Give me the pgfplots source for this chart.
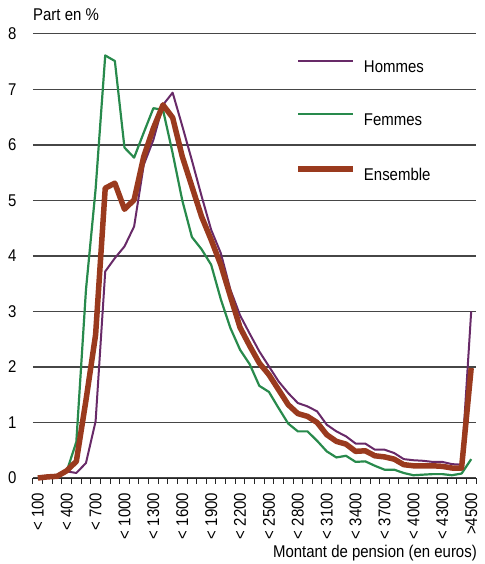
\documentclass[border=0pt]{standalone}
\usepackage{fontspec}
\setmainfont{Liberation Sans}[FakeStretch=0.88]
\usepackage{pgfplots}
\pgfplotsset{compat=1.18}
\definecolor{hom}{RGB}{104,42,104}
\definecolor{fem}{RGB}{40,138,76}
\definecolor{ens}{RGB}{154,58,30}
\definecolor{gridc}{RGB}{70,70,70}

\pgfplotstableread{
i hom fem ens
0 0.00 0.00 0.00
1 0.02 0.02 0.02
2 0.02 0.03 0.03
3 0.12 0.12 0.13
4 0.09 0.65 0.30
5 0.27 3.39 1.40
6 1.02 5.20 2.58
7 3.72 7.61 5.22
8 3.96 7.51 5.31
9 4.17 5.95 4.84
10 4.53 5.77 5.01
11 5.64 6.22 5.79
12 6.09 6.66 6.30
13 6.72 6.63 6.72
14 6.94 5.85 6.49
15 6.34 5.00 5.79
16 5.72 4.34 5.25
17 5.08 4.12 4.71
18 4.47 3.84 4.29
19 4.05 3.22 3.84
20 3.39 2.70 3.27
21 2.93 2.31 2.71
22 2.60 2.05 2.38
23 2.28 1.66 2.07
24 2.01 1.55 1.86
25 1.74 1.26 1.59
26 1.53 0.98 1.32
27 1.35 0.84 1.16
28 1.29 0.84 1.11
29 1.20 0.67 1.00
30 0.96 0.48 0.78
31 0.84 0.37 0.66
32 0.75 0.40 0.61
33 0.62 0.29 0.48
34 0.62 0.30 0.49
35 0.51 0.22 0.40
36 0.51 0.15 0.38
37 0.45 0.15 0.34
38 0.34 0.09 0.24
39 0.32 0.05 0.22
40 0.31 0.06 0.22
41 0.29 0.07 0.22
42 0.29 0.07 0.21
43 0.25 0.05 0.18
44 0.24 0.08 0.18
45 3.00 0.34 1.98
}\data

\begin{document}
\begin{tikzpicture}
\useasboundingbox (-33pt,-86pt) rectangle (451pt,478pt);
\begin{axis}[
  scale only axis, width=443pt, height=444.2pt,
  at={(0pt,0pt)}, anchor=south west,
  clip=false,
  xmin=-0.5, xmax=45.5, ymin=0, ymax=8,
  axis x line=bottom, axis y line=left,
  x axis line style={-, line width=1pt, black!85},
  y axis line style={draw=none},
  ytick={0,...,8},
  ymajorgrids, grid style={gridc, line width=1.3pt},
  ytick style={draw=none},
  /pgf/number format/assume math mode=true,
  tick label style={font=\fontsize{17}{17}\selectfont},
  yticklabel style={anchor=east, inner sep=0pt, xshift=-13.7pt},
  xtick={-0.5,0.5,...,45.5},
  xticklabels={},
  xtick align=outside,
  major tick length=5.5pt,
  xtick style={line width=1pt, black!85},
  extra x ticks={0,3,...,45},
  extra x tick labels={< 100,< 400,< 700,< 1000,< 1300,< 1600,< 1900,< 2200,< 2500,< 2800,< 3100,< 3400,< 3700,< 4000,< 4300,>4500},
  extra x tick style={major tick length=0pt, tick label style={rotate=90, anchor=east, inner sep=0pt}},
  xticklabel shift=14.7pt,
  legend style={at={(0.592,0.9437)}, anchor=north west, draw=none, fill=none, inner sep=0pt,
    row sep=38.5pt, font=\fontsize{17}{17}\selectfont,
    nodes={inner sep=0pt, text height=13pt, text depth=2pt},
    /tikz/every odd column/.append style={column sep=8pt}},
  legend cell align=left,
  legend image code/.code={\draw[#1] (0pt,6pt) -- (55pt,6pt);},
]
\addplot[hom, line width=2pt, line join=round] table[x=i, y=hom] {\data};
\addlegendentry{Hommes}
\addplot[fem, line width=2.2pt, line join=round] table[x=i, y=fem] {\data};
\addlegendentry{Femmes}
\addplot[ens, line width=5.5pt, line join=round] table[x=i, y=ens] {\data};
\addlegendentry{Ensemble}
\end{axis}
\node[anchor=base west, inner sep=0pt, font=\fontsize{17}{17}\selectfont] at (0pt,457.3pt) {Part en \%};
\node[anchor=base east, inner sep=0pt, font=\fontsize{17}{17}\selectfont] at (444pt,-79.3pt) {Montant de pension (en euros)};
\end{tikzpicture}
\end{document}
